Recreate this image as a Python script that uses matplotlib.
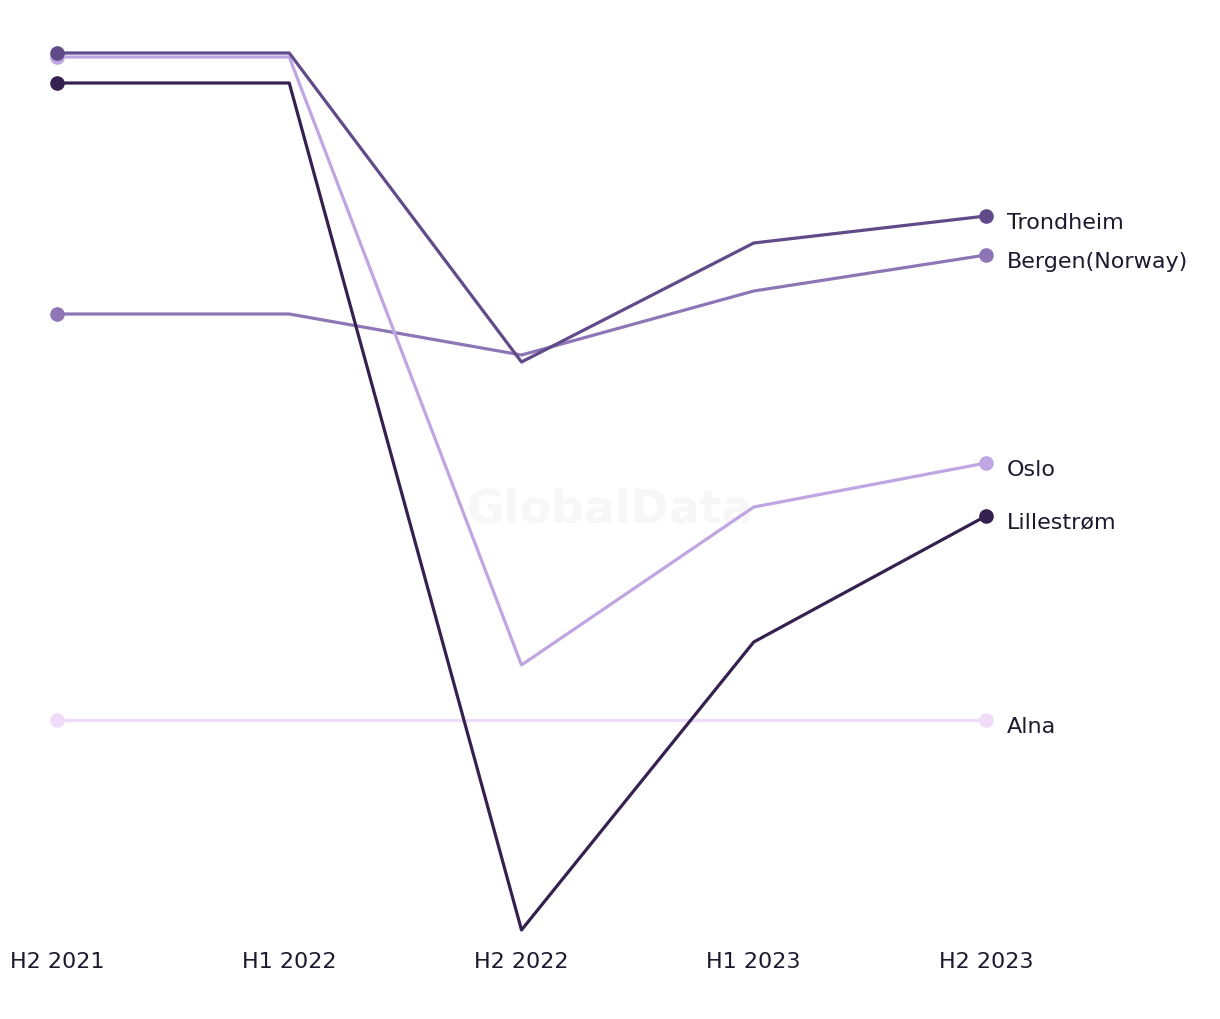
import matplotlib.pyplot as plt

# periods and series values (index)
periods = ['H2 2021', 'H1 2022', 'H2 2022', 'H1 2023', 'H2 2023']
trondheim = [94.7, 94.7, 63.8, 75.7, 78.4]
bergen = [68.6, 68.6, 64.5, 70.9, 74.5]
oslo = [94.3, 94.3, 33.5, 49.3, 53.7]
lillestrom = [91.7, 91.7, 7.0, 35.8, 48.4]
alna = [28.0, 28.0, 28.0, 28.0, 28.0]

series = [
    ('Alna', alna, '#f0dcf8'),
    ('Bergen(Norway)', bergen, '#8e76b6'),
    ('Oslo', oslo, '#bfa6e2'),
    ('Lillestrøm', lillestrom, '#35214f'),
    ('Trondheim', trondheim, '#604a8a'),
]

fig = plt.figure(figsize=(12.2, 10.2), dpi=100)
ax = fig.add_axes([57 / 1220, 89 / 1020, (986 - 57) / 1220, (930 - 53) / 1020])

x = list(range(len(periods)))
for name, vals, color in series:
    ax.plot(x, vals, color=color, linewidth=2.3, clip_on=False, zorder=2)
    ax.plot([x[0], x[-1]], [vals[0], vals[-1]], 'o', color=color,
            markersize=9.5, clip_on=False, zorder=3)
    ax.annotate(name, (x[-1], vals[-1]), xytext=(15, -4), textcoords='offset points',
                va='center', ha='left', fontsize=16, color='#1c1a2e')

ax.text(0.5, 0.5, 'GlobalData', transform=fig.transFigure, ha='center', va='center',
        fontsize=33, fontweight='bold', color='#f7f7f7', zorder=0)

all_vals = trondheim + bergen + oslo + lillestrom + alna
ax.set_ylim(min(all_vals), max(all_vals))
ax.set_xlim(0, len(periods) - 1)
ax.set_xticks(x)
ax.set_xticklabels(periods, fontsize=16, color='#1c1a2e')
ax.tick_params(axis='x', length=0, pad=15)
ax.set_yticks([])
for s in ax.spines.values():
    s.set_visible(False)

fig.savefig('out.png', dpi=100)
